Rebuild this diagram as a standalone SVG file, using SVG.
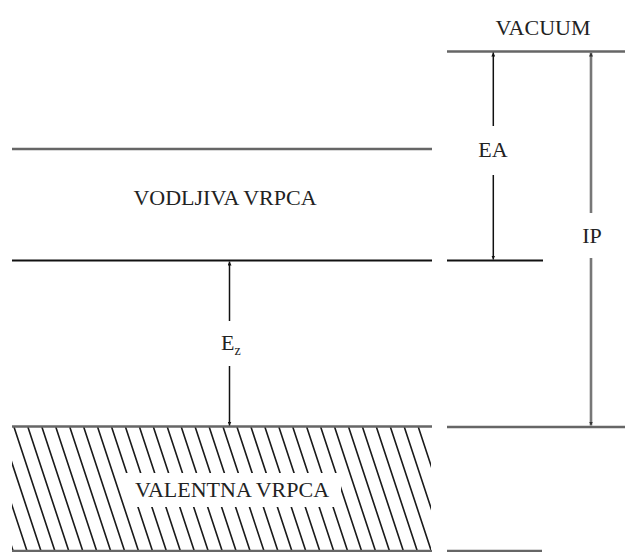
<svg xmlns="http://www.w3.org/2000/svg" width="625" height="552" viewBox="0 0 625 552">
<style>
  .lbl { font-family: "Liberation Serif", "Times New Roman", serif; font-size: 22px; fill: #222; }
  .band { stroke: #666; stroke-width: 2.6; fill: none; }
  .bandk { stroke: #111; stroke-width: 2; fill: none; }
  .hatch { stroke: #1a1a1a; stroke-width: 1.6; fill: none; }
  .arr { stroke: #111; stroke-width: 1.5; fill: none; marker-end: url(#ah); }
  .arrg { stroke: #777; stroke-width: 2.6; fill: none; marker-end: url(#ahg); }
</style>
<defs>
  <marker id="ah" markerUnits="userSpaceOnUse" markerWidth="4" markerHeight="4" refX="4" refY="2" orient="auto">
    <path d="M0,0 L4,2 L0,4 z" fill="#111"/>
  </marker>
  <marker id="ahg" markerUnits="userSpaceOnUse" markerWidth="4" markerHeight="4" refX="4" refY="2" orient="auto">
    <path d="M0,0 L4,2 L0,4 z" fill="#333"/>
  </marker>
  <clipPath id="vclip"><rect x="12" y="427" width="419" height="124"/></clipPath>
</defs>
<rect width="625" height="552" fill="#fff"/>

<g id="vacuum">
  <line class="band" x1="447" y1="51.5" x2="625" y2="51.5" stroke="#555"/>
  <text class="lbl" x="543" y="35" text-anchor="middle">VACUUM</text>
</g>

<g id="conduction-band">
  <line class="band" x1="12" y1="149" x2="432" y2="149"/>
  <line class="bandk" x1="12" y1="260.5" x2="432" y2="260.5"/>
  <line class="bandk" x1="447" y1="260.5" x2="543" y2="260.5"/>
  <text class="lbl" x="225" y="205" text-anchor="middle">VODLJIVA VRPCA</text>
</g>

<g id="valence-band">
  <g clip-path="url(#vclip)">
    <path class="hatch" d="M-27.8,427 L13.1,551 M-13.9,427 L27,551 M0.1,427 L41,551 M14,427 L54.9,551 M27.9,427 L68.8,551 M41.9,427 L82.8,551 M55.8,427 L96.7,551 M69.8,427 L110.7,551 M83.7,427 L124.6,551 M97.6,427 L138.5,551 M111.6,427 L152.5,551 M125.5,427 L166.4,551 M139.5,427 L180.4,551 M153.4,427 L194.3,551 M167.3,427 L208.2,551 M181.3,427 L222.2,551 M195.2,427 L236.1,551 M209.2,427 L250.1,551 M223.1,427 L264,551 M237,427 L277.9,551 M251,427 L291.9,551 M264.9,427 L305.8,551 M278.9,427 L319.8,551 M292.8,427 L333.7,551 M306.7,427 L347.6,551 M320.7,427 L361.6,551 M334.6,427 L375.5,551 M348.6,427 L389.5,551 M362.5,427 L403.4,551 M376.4,427 L417.3,551 M390.4,427 L431.3,551 M404.3,427 L445.2,551 M418.3,427 L459.2,551"/>
  </g>
  <rect x="126" y="473" width="215" height="34" fill="#fff"/>
  <line class="band" x1="12" y1="426.5" x2="432" y2="426.5"/>
  <line class="band" x1="447" y1="427" x2="625" y2="427"/>
  <line class="band" x1="12" y1="551" x2="432" y2="551" stroke-width="2"/>
  <line class="band" x1="447" y1="551" x2="542" y2="551" stroke-width="2"/>
  <text class="lbl" x="232" y="497" text-anchor="middle">VALENTNA VRPCA</text>
</g>

<g id="connectors">
  <path class="arr" d="M493.3,126 V52.5"/>
  <path class="arr" d="M493.3,175 V259.5"/>
  <path class="arrg" d="M591,213 V52.5"/>
  <path class="arrg" d="M591,258 V425.5"/>
  <path class="arr" d="M229.5,321 V261.5"/>
  <path class="arr" d="M229.5,366 V425.5"/>
</g>

<g id="labels">
  <text class="lbl" x="493" y="157" text-anchor="middle">EA</text>
  <text class="lbl" x="592" y="243" text-anchor="middle">IP</text>
  <text class="lbl" x="221" y="350">E<tspan font-size="14" dy="5">z</tspan></text>
</g>
</svg>
